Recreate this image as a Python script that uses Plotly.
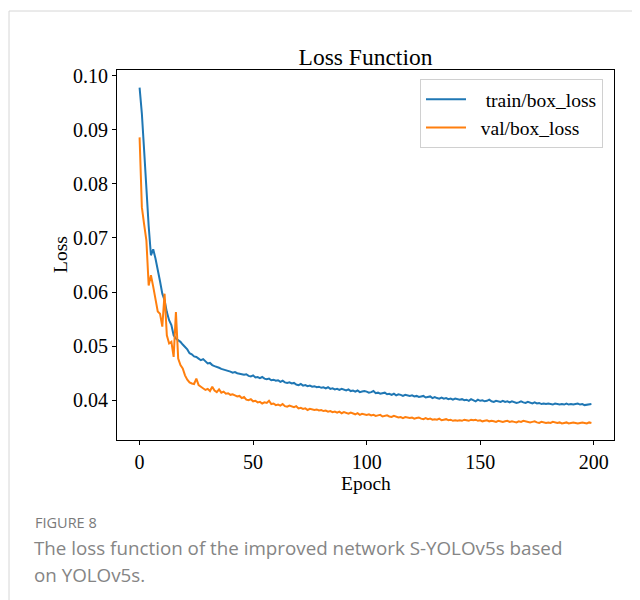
import plotly.graph_objects as go

epochs = list(range(200))

train_box_loss = [
    0.0978, 0.0930, 0.0862, 0.0780, 0.0722, 0.0668, 0.0679, 0.0662, 0.0643, 0.0620,
    0.0597, 0.0585, 0.0563, 0.0548, 0.0539, 0.0520, 0.0514, 0.0511, 0.0508, 0.0503,
    0.0499, 0.0494, 0.0487, 0.0485, 0.0481, 0.0480, 0.0477, 0.0474, 0.0476, 0.0471,
    0.0468, 0.0469, 0.0465, 0.0463, 0.0462, 0.0460, 0.0458, 0.0457, 0.0455, 0.0454,
    0.0453, 0.0451, 0.0452, 0.0450, 0.0449, 0.0449, 0.0447, 0.0448, 0.0445, 0.0444,
    0.0446, 0.0442, 0.0443, 0.0441, 0.0443, 0.0440, 0.0439, 0.0440, 0.0437, 0.0438,
    0.0436, 0.0437, 0.0434, 0.0436, 0.0433, 0.0432, 0.0433, 0.0431, 0.0432, 0.0429,
    0.0428, 0.0430, 0.0427, 0.0428, 0.0426, 0.0427, 0.0425, 0.0426, 0.0424, 0.0425,
    0.0423, 0.0424, 0.0422, 0.0424, 0.0421, 0.0422, 0.0420, 0.0421, 0.0419, 0.0421,
    0.0419, 0.0418, 0.0420, 0.0417, 0.0418, 0.0416, 0.0418, 0.0415, 0.0416, 0.0417,
    0.0416, 0.0414, 0.0415, 0.0417, 0.0413, 0.0414, 0.0412, 0.0413, 0.0414, 0.0411,
    0.0412, 0.0410, 0.0412, 0.0409, 0.0411, 0.0410, 0.0408, 0.0410, 0.0409, 0.0408,
    0.0409, 0.0407, 0.0408, 0.0406, 0.0407, 0.0408, 0.0405, 0.0406, 0.0407, 0.0404,
    0.0406, 0.0404, 0.0403, 0.0405, 0.0403, 0.0404, 0.0402, 0.0403, 0.0401, 0.0403,
    0.0402, 0.0401, 0.0402, 0.0400, 0.0401, 0.0399, 0.0402, 0.0400, 0.0398, 0.0401,
    0.0399, 0.0400, 0.0398, 0.0399, 0.0401, 0.0398, 0.0397, 0.0399, 0.0398, 0.0397,
    0.0399, 0.0397, 0.0398, 0.0396, 0.0398, 0.0397, 0.0395, 0.0396, 0.0398, 0.0396,
    0.0395, 0.0397, 0.0395, 0.0394, 0.0396, 0.0394, 0.0395, 0.0393, 0.0394, 0.0393,
    0.0394, 0.0393, 0.0392, 0.0394, 0.0393, 0.0392, 0.0393, 0.0392, 0.0394, 0.0392,
    0.0393, 0.0392, 0.0393, 0.0394, 0.0392, 0.0393, 0.0391, 0.0392, 0.0393, 0.0393,
]

val_box_loss = [
    0.0886, 0.0757, 0.0725, 0.0695, 0.0612, 0.0631, 0.0610, 0.0590, 0.0564, 0.0560,
    0.0536, 0.0597, 0.0520, 0.0505, 0.0508, 0.0480, 0.0563, 0.0477, 0.0465, 0.0459,
    0.0446, 0.0438, 0.0433, 0.0431, 0.0430, 0.0440, 0.0428, 0.0425, 0.0422, 0.0419,
    0.0421, 0.0417, 0.0425, 0.0418, 0.0415, 0.0420, 0.0414, 0.0416, 0.0412, 0.0413,
    0.0410, 0.0411, 0.0409, 0.0407, 0.0408, 0.0404, 0.0406, 0.0401, 0.0400, 0.0402,
    0.0398, 0.0399, 0.0396, 0.0397, 0.0394, 0.0396, 0.0395, 0.0399, 0.0393, 0.0394,
    0.0391, 0.0392, 0.0390, 0.0393, 0.0389, 0.0388, 0.0390, 0.0388, 0.0387, 0.0389,
    0.0385, 0.0386, 0.0384, 0.0385, 0.0382, 0.0384, 0.0383, 0.0382, 0.0383, 0.0381,
    0.0382, 0.0380, 0.0381, 0.0379, 0.0380, 0.0378, 0.0379, 0.0377, 0.0379, 0.0376,
    0.0378, 0.0377, 0.0375, 0.0377, 0.0376, 0.0374, 0.0376, 0.0373, 0.0375, 0.0374,
    0.0373, 0.0374, 0.0372, 0.0373, 0.0371, 0.0372, 0.0373, 0.0370, 0.0371, 0.0372,
    0.0370, 0.0369, 0.0371, 0.0370, 0.0368, 0.0369, 0.0367, 0.0369, 0.0368, 0.0367,
    0.0368, 0.0366, 0.0367, 0.0368, 0.0366, 0.0365, 0.0367, 0.0365, 0.0366, 0.0364,
    0.0365, 0.0364, 0.0366, 0.0363, 0.0364, 0.0365, 0.0363, 0.0364, 0.0362, 0.0363,
    0.0362, 0.0363, 0.0362, 0.0364, 0.0363, 0.0362, 0.0364, 0.0363, 0.0364, 0.0362,
    0.0363, 0.0361, 0.0362, 0.0363, 0.0361, 0.0362, 0.0361, 0.0360, 0.0362, 0.0361,
    0.0360, 0.0361, 0.0362, 0.0360, 0.0361, 0.0360, 0.0359, 0.0361, 0.0360, 0.0362,
    0.0361, 0.0360, 0.0359, 0.0360, 0.0361, 0.0359, 0.0358, 0.0360, 0.0359, 0.0358,
    0.0359, 0.0358, 0.0360, 0.0359, 0.0358, 0.0359, 0.0357, 0.0358, 0.0359, 0.0357,
    0.0358, 0.0359, 0.0358, 0.0357, 0.0358, 0.0359, 0.0358, 0.0357, 0.0359, 0.0358,
]

series_names = ["\u00a0\u00a0\u00a0train/box_loss", "\u00a0\u00a0val/box_loss"]
series_colors = ["#1f77b4", "#ff7f0e"]

x_ticks = [0, 50, 100, 150, 200]
y_ticks = [0.04, 0.05, 0.06, 0.07, 0.08, 0.09, 0.10]
y_tick_labels = ["0.04", "0.05", "0.06", "0.07", "0.08", "0.09", "0.10"]

SERIF = "Liberation Serif, Times New Roman, serif"
SANS = "Open Sans, Lato, sans-serif"

# page offset (body margin) and plot area geometry in screen pixels
OFF = 8
W, H = 640 - OFF, 600 - OFF
L, R, T, B = 117 - OFF, 614 - OFF, 70 - OFF, 440 - OFF

def px(xs):  # screen x -> paper
    return (xs - OFF - L) / (R - L)

def py(ys):  # screen y -> paper
    return (B - (ys - OFF)) / (B - T)

fig = go.Figure()
for ys, nm, col in zip([train_box_loss, val_box_loss], series_names, series_colors):
    fig.add_trace(go.Scatter(x=epochs, y=ys, mode="lines", name=nm,
                             line=dict(color=col, width=2)))

fig.update_layout(
    width=W, height=H,
    margin=dict(l=L, r=W - R, t=T, b=H - B),
    paper_bgcolor="white", plot_bgcolor="white",
    showlegend=True,
    title=dict(text="Loss Function", x=((L + R) / 2) / W, xanchor="center",
               y=(H - (57 - OFF)) / H, yanchor="middle",
               font=dict(family=SERIF, size=23.5, color="black")),
    legend=dict(x=px(420), y=py(79), xanchor="left", yanchor="top",
                bgcolor="white", bordercolor="#d0d0d0", borderwidth=1,
                font=dict(family=SERIF, size=19.5, color="black"),
                tracegroupgap=0, itemwidth=40),
    font=dict(family=SERIF, color="black"),
)

fig.update_xaxes(range=[-9.95, 208.95], tickvals=x_ticks,
                 ticks="outside", ticklen=4, tickwidth=1, tickcolor="black",
                 showline=True, linecolor="black", linewidth=1, mirror=True,
                 showgrid=False, zeroline=False,
                 tickfont=dict(family=SERIF, size=20, color="black"))
fig.update_yaxes(range=[0.03265, 0.10105], tickvals=y_ticks, ticktext=y_tick_labels,
                 ticks="outside", ticklen=4, tickwidth=1, tickcolor="black",
                 showline=True, linecolor="black", linewidth=1, mirror=True,
                 showgrid=False, zeroline=False,
                 tickfont=dict(family=SERIF, size=20, color="black"))

annotations = [
    dict(text="Epoch", x=px(366), y=py(483), xref="paper", yref="paper",
         xanchor="center", yanchor="middle", showarrow=False,
         font=dict(family=SERIF, size=19.5, color="black")),
    dict(text="Loss", x=px(60), y=py(255), xref="paper", yref="paper",
         xanchor="center", yanchor="middle", showarrow=False, textangle=-90,
         font=dict(family=SERIF, size=19.5, color="black")),
    dict(text="FIGURE 8", x=px(33), y=py(522), xref="paper", yref="paper",
         xanchor="left", yanchor="middle", showarrow=False,
         font=dict(family=SANS, size=14.5, color="#7a7a7a")),
    dict(text="The loss function of the improved network S-YOLOv5s based",
         x=px(32), y=py(548), xref="paper", yref="paper",
         xanchor="left", yanchor="middle", showarrow=False,
         font=dict(family=SANS, size=18.8, color="#858585")),
    dict(text="on YOLOv5s.",
         x=px(32), y=py(575), xref="paper", yref="paper",
         xanchor="left", yanchor="middle", showarrow=False,
         font=dict(family=SANS, size=18.8, color="#858585")),
]
fig.update_layout(annotations=annotations)

fig.update_layout(shapes=[
    dict(type="line", xref="paper", yref="paper",
         x0=px(9), y0=py(11), x1=px(660), y1=py(11),
         line=dict(color="#d6d6d6", width=1)),
    dict(type="line", xref="paper", yref="paper",
         x0=px(9), y0=py(11), x1=px(9), y1=py(620),
         line=dict(color="#d6d6d6", width=1)),
])

fig.write_html("out.html")
